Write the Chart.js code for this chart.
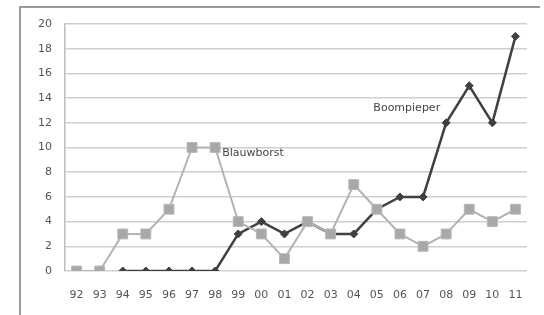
<!DOCTYPE html>
<html>
<head>
<meta charset="utf-8">
<script src="https://cdn.jsdelivr.net/npm/chart.js@4/dist/chart.umd.min.js"></script>
<style>
html,body{margin:0;padding:0;background:#fff;}
#wrap{position:relative;width:544px;height:315px;}
</style>
</head>
<body>
<div id="wrap"><canvas id="c" width="544" height="315"></canvas></div>
<script>
const categories = ['92','93','94','95','96','97','98','99','00','01','02','03','04','05','06','07','08','09','10','11'];
const blauwborst = [0,0,3,3,5,10,10,4,3,1,4,3,7,5,3,2,3,5,4,5];
const boompieper = [null,null,0,0,0,0,0,3,4,3,4,3,3,5,6,6,12,15,12,19];
const yTicks = [0,2,4,6,8,10,12,14,16,18,20];

const seriesLabels = {
  id: 'seriesLabels',
  beforeDraw(chart) {
    const ctx = chart.ctx;
    ctx.save();
    ctx.strokeStyle = '#9a9a9a';
    ctx.lineWidth = 2;
    ctx.beginPath();
    ctx.moveTo(20, 315);
    ctx.lineTo(20, 7);
    ctx.lineTo(540, 7);
    ctx.stroke();
    ctx.restore();
  },
  afterDatasetsDraw(chart) {
    const ctx = chart.ctx, x = chart.scales.x, y = chart.scales.y;
    ctx.save();
    ctx.font = '11px "DejaVu Sans"';
    ctx.fillStyle = '#444';
    ctx.textBaseline = 'middle';
    ctx.textAlign = 'left';
    ctx.fillText('Blauwborst', x.getPixelForValue(6) + 7, y.getPixelForValue(9.55));
    ctx.textAlign = 'right';
    ctx.fillText('Boompieper', x.getPixelForValue(16) - 6, y.getPixelForValue(13.2));
    ctx.restore();
  }
};

new Chart(document.getElementById('c'), {
  type: 'line',
  data: {
    labels: categories,
    datasets: [
      {
        label: 'Blauwborst',
        data: blauwborst,
        borderColor: '#b3b3b3',
        backgroundColor: '#a8a8a8',
        pointBorderColor: '#b8b8b8',
        borderWidth: 2,
        pointStyle: 'rect',
        pointRadius: 7,
        pointBorderWidth: 1,
        tension: 0,
        order: 1
      },
      {
        label: 'Boompieper',
        data: boompieper,
        borderColor: '#404040',
        backgroundColor: '#404040',
        borderWidth: 2.5,
        pointStyle: 'rectRot',
        pointRadius: 4,
        pointBorderWidth: 1,
        tension: 0,
        order: 2
      }
    ]
  },
  options: {
    responsive: false,
    animation: false,
    layout: { padding: { left: 0, right: 17, top: 24, bottom: 0 } },
    plugins: { legend: { display: false }, tooltip: { enabled: false } },
    scales: {
      x: {
        offset: true,
        grid: { display: false, drawTicks: false },
        border: { display: false },
        ticks: { color: '#555', font: { family: 'DejaVu Sans', size: 11 }, padding: 18, maxRotation: 0, autoSkip: false },
        afterFit(s) { s.height = 44; }
      },
      y: {
        min: 0, max: 20,
        afterBuildTicks(s) { s.ticks = yTicks.map(v => ({ value: v })); },
        grid: { color: '#cfcfcf', lineWidth: 1.5, drawTicks: false },
        border: { display: true, color: '#bdbdbd', width: 1.5 },
        ticks: { color: '#555', font: { family: 'DejaVu Sans', size: 11 }, padding: 13 },
        afterFit(s) { s.width = 65; }
      }
    }
  },
  plugins: [seriesLabels]
});
</script>
</body>
</html>
